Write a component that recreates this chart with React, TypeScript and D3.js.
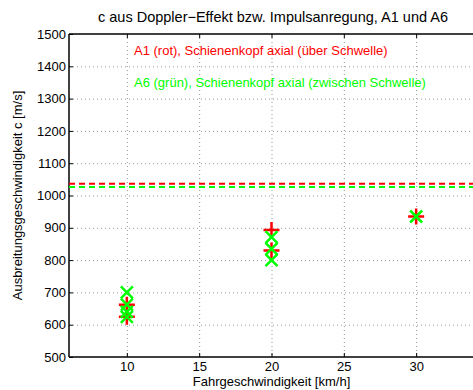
import React, { useEffect, useRef } from "react";
import * as d3 from "d3";

const redX = [10, 10, 20, 20, 30];
const redY = [662, 625, 893, 830, 935];
const greenX = [10, 10, 10, 10, 20, 20, 20, 30];
const greenY = [700, 662, 640, 624, 871, 835, 800, 935];
const redLine = 1036;
const greenLine = 1026;
const xTicks = [10, 15, 20, 25, 30];
const yTicks = [500, 600, 700, 800, 900, 1000, 1100, 1200, 1300, 1400, 1500];

const W = 473;
const H = 390;
const margin = { left: 69, top: 34, right: -1, bottom: 33 };

const App: React.FC = () => {
  const svgRef = useRef<SVGSVGElement | null>(null);

  useEffect(() => {
    const svg = d3.select(svgRef.current);
    svg.selectAll("*").remove();
    const x0 = margin.left;
    const x1 = W - margin.right;
    const y0 = margin.top;
    const y1 = H - margin.bottom;

    const x = d3.scaleLinear().domain([6, 34]).range([x0, x1]);
    const y = d3.scaleLinear().domain([500, 1500]).range([y1, y0]);
    const font = "'Liberation Sans', Arial, sans-serif";

    svg.append("rect").attr("width", W).attr("height", H).attr("fill", "white");

    // grid
    const grid = svg.append("g").attr("stroke", "#999").attr("stroke-width", 1).attr("stroke-dasharray", "1,3");
    xTicks.forEach((t) => {
      grid.append("line").attr("x1", x(t) + 0.5).attr("x2", x(t) + 0.5).attr("y1", y0).attr("y2", y1);
    });
    yTicks.slice(1, -1).forEach((t) => {
      grid.append("line").attr("x1", x0).attr("x2", x1).attr("y1", y(t) + 0.5).attr("y2", y(t) + 0.5);
    });

    // axes (MATLAB-style, ticks inwards)
    const xAxis = d3.axisBottom(x).tickValues(xTicks).tickSize(-4).tickPadding(5).tickFormat(d3.format("d"));
    const yAxis = d3.axisLeft(y).tickValues(yTicks).tickSize(-4).tickPadding(3).tickFormat(d3.format("d"));

    svg.append("g").attr("transform", `translate(0,${y1})`).call(xAxis)
      .call((g) => g.select(".domain").remove())
      .call((g) => g.selectAll("text").attr("font-size", 13).attr("font-family", font).attr("fill", "black"));
    svg.append("g").attr("transform", `translate(${x0},0)`).call(yAxis)
      .call((g) => g.select(".domain").remove())
      .call((g) => g.selectAll("text").attr("font-size", 13).attr("font-family", font).attr("fill", "black"));
    svg.append("g").attr("transform", `translate(0,${y0})`).call(d3.axisTop(x).tickValues(xTicks).tickSize(-4).tickFormat(() => ""))
      .call((g) => g.select(".domain").remove());

    svg.append("line").attr("x1", x0).attr("x2", x1).attr("y1", y1).attr("y2", y1).attr("stroke", "black").attr("stroke-width", 1.5);
    svg.append("line").attr("x1", x0).attr("x2", x1).attr("y1", y0).attr("y2", y0).attr("stroke", "black").attr("stroke-width", 1.5);
    svg.append("line").attr("x1", x0).attr("x2", x0).attr("y1", y0).attr("y2", y1).attr("stroke", "black").attr("stroke-width", 1.5);

    // dashed reference lines
    svg.append("line").attr("x1", x0).attr("x2", x1).attr("y1", y(redLine)).attr("y2", y(redLine))
      .attr("stroke", "#ff0000").attr("stroke-width", 2).attr("stroke-dasharray", "6,4");
    svg.append("line").attr("x1", x0).attr("x2", x1).attr("y1", y(greenLine)).attr("y2", y(greenLine))
      .attr("stroke", "#00ff00").attr("stroke-width", 2).attr("stroke-dasharray", "6,4");

    // markers
    const pts = svg.append("g");
    redX.forEach((vx, i) => {
      const cx = x(vx);
      const cy = y(redY[i]);
      const s = 8;
      pts.append("path").attr("d", `M${cx - s},${cy}H${cx + s}M${cx},${cy - s}V${cy + s}`)
        .attr("stroke", "#ff0000").attr("stroke-width", 2.5).attr("fill", "none");
    });
    greenX.forEach((vx, i) => {
      const cx = x(vx);
      const cy = y(greenY[i]);
      const s = 6;
      pts.append("path").attr("d", `M${cx - s},${cy - s}L${cx + s},${cy + s}M${cx - s},${cy + s}L${cx + s},${cy - s}`)
        .attr("stroke", "#00ff00").attr("stroke-width", 2.5).attr("fill", "none");
    });

    // texts
    svg.append("text").attr("x", 273).attr("y", 22).attr("text-anchor", "middle")
      .attr("font-family", font).attr("font-size", 14.5).text("c aus Doppler\u2212Effekt bzw. Impulsanregung, A1 und A6");
    svg.append("text").attr("x", 134).attr("y", 55).attr("font-family", font).attr("font-size", 13)
      .attr("fill", "#ff0000").text("A1 (rot), Schienenkopf axial (über Schwelle)");
    svg.append("text").attr("x", 134).attr("y", 87).attr("font-family", font).attr("font-size", 13)
      .attr("fill", "#00ff00").text("A6 (grün), Schienenkopf axial (zwischen Schwelle)");
    svg.append("text").attr("x", (x0 + x1) / 2).attr("y", 385.5).attr("text-anchor", "middle")
      .attr("font-family", font).attr("font-size", 13).text("Fahrgeschwindigkeit [km/h]");
    svg.append("text").attr("transform", `translate(22,${(y0 + y1) / 2}) rotate(-90)`).attr("text-anchor", "middle")
      .attr("font-family", font).attr("font-size", 13).text("Ausbreitungsgeschwindigkeit c [m/s]");
  }, []);

  return (
    <svg ref={svgRef} width={W} height={H}
      style={{ position: "absolute", left: 0, top: 0, display: "block" }} />
  );
};

export default App;
